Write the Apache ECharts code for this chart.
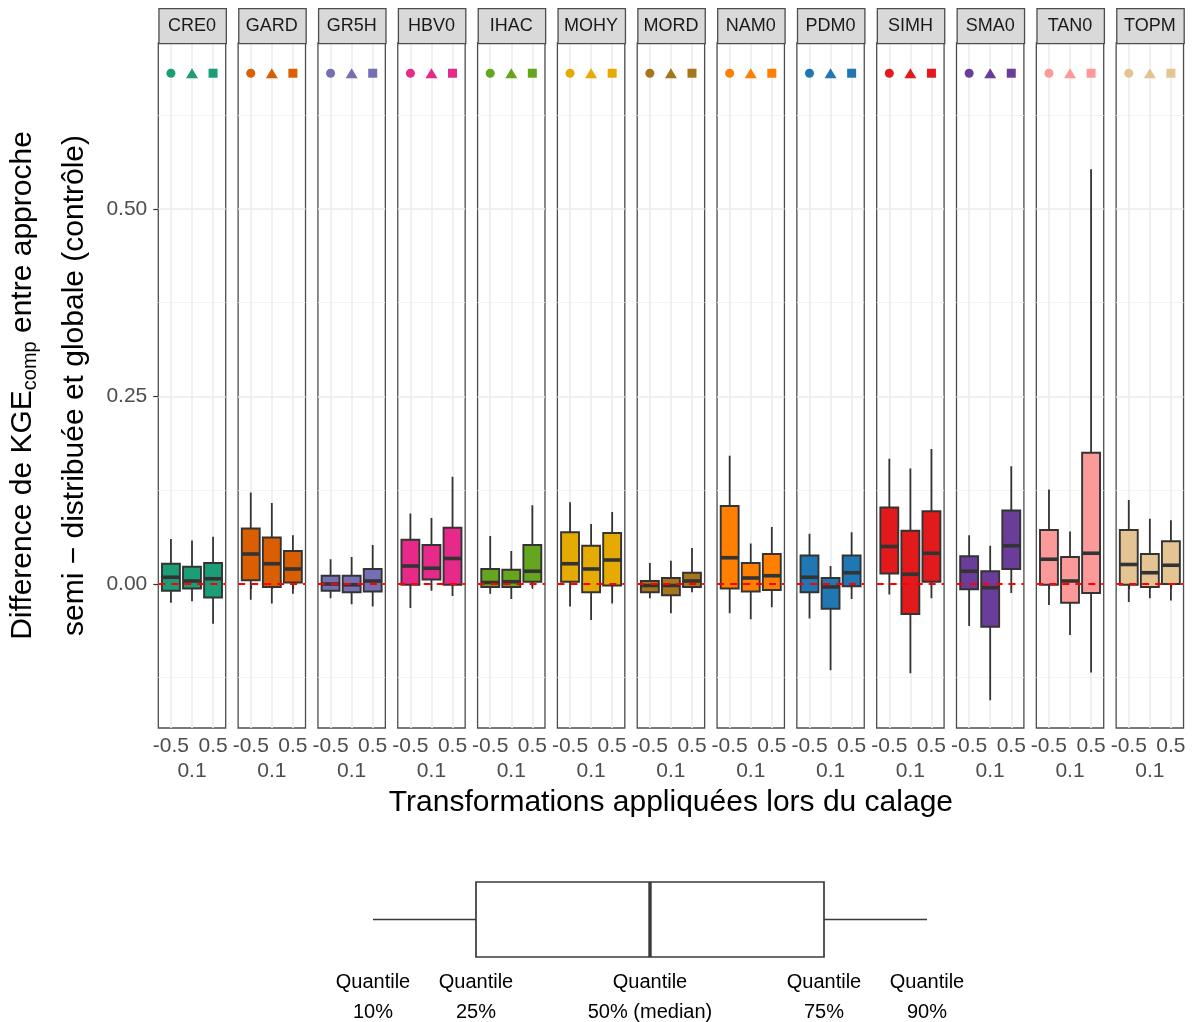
<!DOCTYPE html>
<html><head><meta charset="utf-8">
<script src="https://cdn.jsdelivr.net/npm/echarts@6/dist/echarts.min.js"></script>
<style>html,body{margin:0;padding:0;background:#fff}#c{width:1195px;height:1022px}</style>
</head><body><div id="c"></div>
<script>
// ---------------- data ----------------
const models = ['CRE0','GARD','GR5H','HBV0','IHAC','MOHY','MORD','NAM0','PDM0','SIMH','SMA0','TAN0','TOPM'];
const transformations = ['-0.5','0.1','0.5'];
const modelColors = ['#1B9E77','#D95F02','#7570B3','#E7298A','#66A61E','#E6AB02','#A6761D','#FF7F00','#1F78B4','#E31A1C','#6A3D9A','#FB9A99','#E5C494'];
const markerShapes = ['circle','triangle','rect'];
const yTicks = [0, 0.25, 0.5];
const yMinorTicks = [-0.125, 0.125, 0.375, 0.625];
const legendLabels = ['10%','25%','50% (median)','75%','90%'];
// each row: [quantile 10%, 25%, 50%, 75%, 90%] for transformations -0.5, 0.1, 0.5
const boxCRE0 = [[-0.025,-0.009,0.009,0.027,0.060],[-0.023,-0.006,0.004,0.023,0.058],[-0.053,-0.018,0.007,0.028,0.063]];
const boxGARD = [[-0.021,0.005,0.040,0.074,0.122],[-0.026,-0.004,0.027,0.062,0.108],[-0.013,0.002,0.020,0.044,0.065]];
const boxGR5H = [[-0.019,-0.009,0.000,0.011,0.033],[-0.027,-0.011,-0.001,0.011,0.036],[-0.030,-0.010,0.004,0.020,0.052]];
const boxHBV0 = [[-0.032,-0.001,0.024,0.059,0.094],[-0.009,0.006,0.021,0.052,0.088],[-0.016,-0.001,0.034,0.075,0.143]];
const boxIHAC = [[-0.013,-0.004,0.002,0.020,0.064],[-0.020,-0.004,0.003,0.019,0.044],[-0.005,0.003,0.017,0.052,0.105]];
const boxMOHY = [[-0.030,0.003,0.027,0.069,0.109],[-0.048,-0.011,0.020,0.051,0.080],[-0.026,-0.002,0.032,0.068,0.096]];
const boxMORD = [[-0.019,-0.011,-0.002,0.004,0.028],[-0.039,-0.015,-0.002,0.008,0.031],[-0.011,-0.004,0.004,0.015,0.048]];
const boxNAM0 = [[-0.039,-0.006,0.035,0.104,0.171],[-0.047,-0.010,0.008,0.028,0.054],[-0.031,-0.008,0.011,0.040,0.076]];
const boxPDM0 = [[-0.046,-0.011,0.009,0.038,0.067],[-0.115,-0.033,-0.004,0.008,0.024],[-0.020,-0.003,0.015,0.038,0.069]];
const boxSIMH = [[-0.014,0.014,0.050,0.102,0.167],[-0.119,-0.040,0.013,0.071,0.154],[-0.019,0.003,0.041,0.097,0.180]];
const boxSMA0 = [[-0.056,-0.007,0.017,0.037,0.065],[-0.155,-0.057,-0.005,0.017,0.051],[-0.012,0.020,0.051,0.098,0.157]];
const boxTAN0 = [[-0.028,-0.001,0.033,0.072,0.126],[-0.068,-0.025,0.004,0.036,0.070],[-0.118,-0.012,0.041,0.175,0.553]];
const boxTOPM = [[-0.024,-0.001,0.026,0.072,0.112],[-0.019,-0.004,0.015,0.040,0.087],[-0.022,0.000,0.025,0.057,0.085]];
const markerLevel = 0.681;
const refLevel = 0;

// ---------------- layout ----------------
const FONT = '"Liberation Sans", Arial, sans-serif';
const allBoxes = [boxCRE0,boxGARD,boxGR5H,boxHBV0,boxIHAC,boxMOHY,boxMORD,boxNAM0,boxPDM0,boxSIMH,boxSMA0,boxTAN0,boxTOPM];
const P_LEFT = 158.3, P_STEP = 79.82, P_W = 67.4, P_TOP = 43, P_BOTTOM = 728;
const Y_MIN = -0.192, Y_MAX = 0.7213;
const BOX_W = 0.85;
const TICK_FONT = 21;

const grids = [], xAxes = [], yAxes = [], series = [], graphics = [];
const labelFor = v => transformations[Math.round(v) - 1];

models.forEach((m, i) => {
  const left = P_LEFT + i * P_STEP;
  grids.push({left: left, top: P_TOP, width: P_W, height: P_BOTTOM - P_TOP,
    show: true, borderColor: '#4d4d4d', borderWidth: 1.3, backgroundColor: '#fff'});
  // first row of x labels (and ticks, vertical grid lines)
  xAxes.push({type: 'value', gridIndex: i, min: 0.4, max: 3.6, position: 'bottom', offset: 0,
    axisLine: {show: false},
    axisTick: {show: true, length: 5, customValues: [1,2,3], lineStyle: {color: '#333', width: 1.2}},
    axisLabel: {show: true, customValues: [1,3], margin: 8, color: '#4D4D4D', fontSize: TICK_FONT, fontFamily: FONT,
      formatter: labelFor},
    splitLine: {show: true, lineStyle: {color: '#EBEBEB', width: 1.5}}
  });
  // second (dodged) row of x labels
  xAxes.push({type: 'value', gridIndex: i, min: 0.4, max: 3.6, position: 'bottom', offset: 0,
    axisLine: {show: false},
    axisTick: {show: false, customValues: [2]},
    axisLabel: {show: true, customValues: [2], margin: 33, color: '#4D4D4D', fontSize: TICK_FONT, fontFamily: FONT,
      formatter: labelFor},
    splitLine: {show: false}
  });
  // major y axis
  yAxes.push({type: 'value', gridIndex: i, min: Y_MIN, max: Y_MAX,
    axisLine: {show: false},
    axisTick: {show: i === 0, length: 5, customValues: yTicks, lineStyle: {color: '#333', width: 1.2}},
    axisLabel: {show: i === 0, customValues: yTicks, margin: 11, color: '#4D4D4D', fontSize: TICK_FONT, fontFamily: FONT,
      formatter: v => v.toFixed(2)},
    splitLine: {show: true, lineStyle: {color: '#EBEBEB', width: 1.5}}
  });
  // minor y axis (minor grid lines)
  yAxes.push({type: 'value', gridIndex: i, min: Y_MIN, max: Y_MAX,
    axisLine: {show: false},
    axisTick: {show: false, customValues: yMinorTicks},
    axisLabel: {show: false},
    splitLine: {show: true, lineStyle: {color: '#F3F3F3', width: 0.9}}
  });
  const color = modelColors[i];
  series.push({
    type: 'custom', name: m, xAxisIndex: 2 * i, yAxisIndex: 2 * i, z: 3,
    itemStyle: {color: color},
    encode: {x: 0, y: [1,2,3,4,5]},
    data: allBoxes[i].map((q, k) => [k + 1].concat(q)),
    renderItem: (params, api) => {
      const x = api.value(0);
      const lo = api.coord([x, api.value(1)]);
      const q1 = api.coord([x, api.value(2)]);
      const md = api.coord([x, api.value(3)]);
      const q3 = api.coord([x, api.value(4)]);
      const hi = api.coord([x, api.value(5)]);
      const w = api.size([BOX_W, 0])[0];
      const stroke = '#333333';
      return {type: 'group', children: [
        {type: 'line', shape: {x1: lo[0], y1: lo[1], x2: q1[0], y2: q1[1]}, style: {stroke: stroke, lineWidth: 1.8}},
        {type: 'line', shape: {x1: q3[0], y1: q3[1], x2: hi[0], y2: hi[1]}, style: {stroke: stroke, lineWidth: 1.8}},
        {type: 'rect', shape: {x: q1[0] - w / 2, y: q3[1], width: w, height: q1[1] - q3[1]},
          style: {fill: color, stroke: stroke, lineWidth: 1.9}},
        {type: 'line', shape: {x1: md[0] - w / 2, y1: md[1], x2: md[0] + w / 2, y2: md[1]},
          style: {stroke: stroke, lineWidth: 3.6}}
      ]};
    }
  });
  series.push({
    type: 'scatter', xAxisIndex: 2 * i, yAxisIndex: 2 * i, z: 10, silent: true,
    itemStyle: {color: color, opacity: 1},
    data: transformations.map((t, k) => ({value: [k + 1, markerLevel], symbol: markerShapes[k],
      symbolSize: markerShapes[k] === 'circle' ? 9 : (markerShapes[k] === 'triangle' ? [12, 10] : 9)})),
    markLine: {silent: true, symbol: ['none','none'], label: {show: false}, animation: false,
      lineStyle: {color: '#FF0000', type: [7, 6], width: 2, opacity: 1},
      emphasis: {disabled: true},
      data: [{yAxis: refLevel}]}
  });
  // strip
  graphics.push({type: 'rect', left: left, top: 8, shape: {width: P_W, height: P_TOP - 8},
    style: {fill: '#D9D9D9', stroke: '#4d4d4d', lineWidth: 1.3}, z: 10});
  graphics.push({type: 'text', x: left + P_W / 2, y: (8 + P_TOP) / 2 + 1, z: 11,
    style: {text: m, fill: '#1A1A1A', font: '18px ' + FONT, textAlign: 'center', textVerticalAlign: 'middle'}});
});

// axis titles
const panelsRight = P_LEFT + (models.length - 1) * P_STEP + P_W;
graphics.push({type: 'text', x: (P_LEFT + panelsRight) / 2, y: 803, z: 11,
  style: {text: 'Transformations appliquées lors du calage', fill: '#000', font: '30px ' + FONT,
    textAlign: 'center', textVerticalAlign: 'middle'}});
const yMid = (P_TOP + P_BOTTOM) / 2;
graphics.push({type: 'text', x: 23, y: yMid, rotation: Math.PI / 2, z: 11,
  style: {text: '{m|Difference de KGE}{s|comp}{m| entre approche}', textAlign: 'center', textVerticalAlign: 'middle',
    rich: {m: {fontSize: 30, fontFamily: FONT, fill: '#000', lineHeight: 34, verticalAlign: 'middle'},
           s: {fontSize: 20, fontFamily: FONT, fill: '#000', lineHeight: 20, verticalAlign: 'bottom'}}}});
graphics.push({type: 'text', x: 74.5, y: yMid, rotation: Math.PI / 2, z: 11,
  style: {text: 'semi \u2212 distribuée et globale (contrôle)', fill: '#000', font: '30px ' + FONT,
    textAlign: 'center', textVerticalAlign: 'middle'}});

// schematic box legend
const LG = {x10: 373, x25: 476, x50: 650, x75: 824, x90: 927, yTop: 882, yBot: 957};
const lgMid = (LG.yTop + LG.yBot) / 2;
const lgStroke = '#3a3a3a';
graphics.push({type: 'line', shape: {x1: LG.x10, y1: lgMid, x2: LG.x25, y2: lgMid}, style: {stroke: lgStroke, lineWidth: 1.7}});
graphics.push({type: 'line', shape: {x1: LG.x75, y1: lgMid, x2: LG.x90, y2: lgMid}, style: {stroke: lgStroke, lineWidth: 1.7}});
graphics.push({type: 'rect', shape: {x: LG.x25, y: LG.yTop, width: LG.x75 - LG.x25, height: LG.yBot - LG.yTop},
  style: {fill: '#fff', stroke: lgStroke, lineWidth: 1.7}});
graphics.push({type: 'line', shape: {x1: LG.x50, y1: LG.yTop, x2: LG.x50, y2: LG.yBot}, style: {stroke: lgStroke, lineWidth: 3.4}});
[LG.x10, LG.x25, LG.x50, LG.x75, LG.x90].forEach((x, k) => {
  graphics.push({type: 'text', x: x, y: 982, style: {text: 'Quantile', fill: '#000', font: '20px ' + FONT, textAlign: 'center', textVerticalAlign: 'middle'}});
  graphics.push({type: 'text', x: x, y: 1012, style: {text: legendLabels[k], fill: '#000', font: '20px ' + FONT, textAlign: 'center', textVerticalAlign: 'middle'}});
});

const chart = echarts.init(document.getElementById('c'), null, {renderer: 'canvas'});
chart.setOption({
  animation: false,
  backgroundColor: '#fff',
  grid: grids, xAxis: xAxes, yAxis: yAxes, series: series, graphic: graphics
});
</script>
</body></html>
